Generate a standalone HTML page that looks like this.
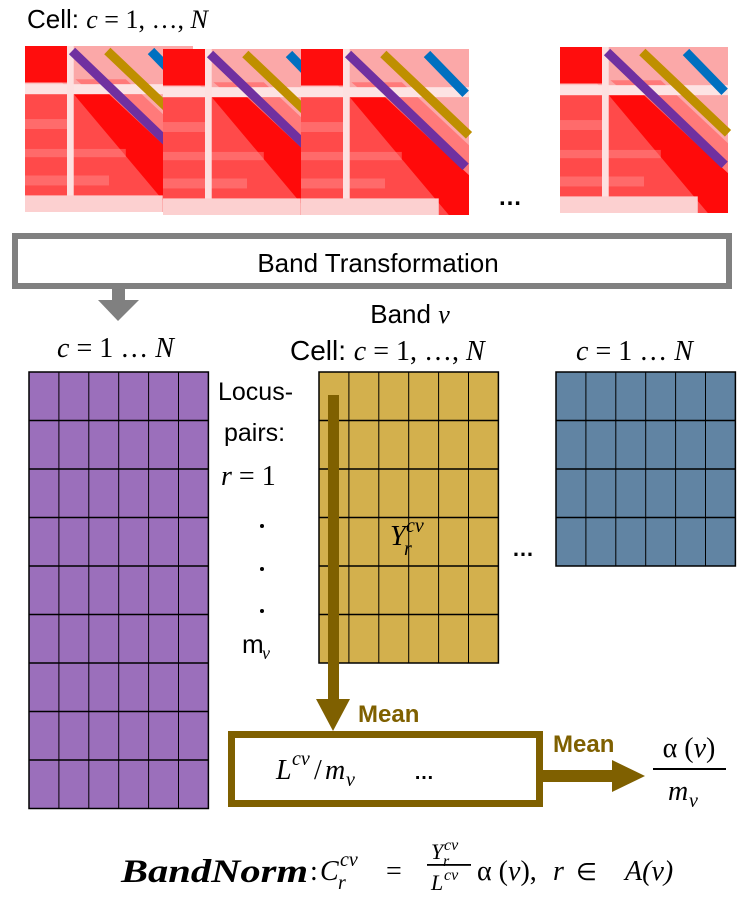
<!DOCTYPE html>
<html><head><meta charset="utf-8"><style>
html,body{margin:0;padding:0;background:#fff}
svg{display:block}
.s{font-family:"Liberation Sans",sans-serif}
.m{font-family:"Liberation Serif",serif;font-style:italic}
.r{font-family:"Liberation Serif",serif}
</style></head><body>
<svg id="root" width="750" height="905" viewBox="0 0 750 905" xmlns="http://www.w3.org/2000/svg">
<defs>
<g id="hm">
  <rect x="0" y="0" width="100" height="100" fill="#fcc4c4"/>
  <polygon points="0,0 100,0 100,100" fill="#fba8a8"/>
  <polygon points="30,20 60,20 100,58 100,80" fill="#ff7a7a"/>
  <polygon points="0,29 29,29 100,100 0,100" fill="#ff4a4a"/>
  <polygon points="29,29 50,29 100,76 100,100 88,100" fill="#ff0a0a"/>
  <rect x="0" y="0" width="26" height="22" fill="#ff0d0d"/>
  <rect x="0" y="44" width="26" height="6" fill="#ff8c8c" opacity="0.5"/>
  <rect x="0" y="62" width="60" height="5" fill="#ff9a9a" opacity="0.4"/>
  <rect x="0" y="78" width="50" height="6" fill="#ff9a9a" opacity="0.4"/>
  <rect x="0" y="23" width="100" height="6" fill="#fde3e3"/>
  <rect x="25" y="0" width="4" height="100" fill="#fde0e0"/>
  <rect x="0" y="90" width="82" height="10" fill="#fcd0d0"/>
</g>
</defs>
<text x="27" y="28" font-size="26"><tspan class="s">Cell: </tspan><tspan class="m">c</tspan><tspan class="r"> = 1, …, </tspan><tspan class="m">N</tspan></text>
<g id="heatmaps"></g>
<text x="498" y="205" class="s" font-size="24" font-weight="bold">…</text>
<rect x="15" y="236" width="714" height="50" fill="#fff" stroke="#808080" stroke-width="6"/>
<text x="378" y="272" text-anchor="middle" class="s" font-size="26">Band Transformation</text>
<g><rect x="112" y="289" width="13" height="13" fill="#808080"/><polygon points="98,300 139,300 118,321" fill="#808080"/></g>
<text x="410" y="323" text-anchor="middle" font-size="26"><tspan class="s">Band </tspan><tspan class="m">v</tspan></text>
<text x="290" y="360" font-size="28"><tspan class="s">Cell: </tspan><tspan class="m">c</tspan><tspan class="r"> = 1, …, </tspan><tspan class="m">N</tspan></text>
<text x="57" y="357" font-size="28"><tspan class="m">c</tspan><tspan class="r"> = 1 … </tspan><tspan class="m">N</tspan></text>
<text x="576" y="360" font-size="28"><tspan class="m">c</tspan><tspan class="r"> = 1 … </tspan><tspan class="m">N</tspan></text>
<g id="grids"></g>
<text x="218" y="400" class="s" font-size="25">Locus-</text>
<text x="224" y="441" class="s" font-size="25">pairs:</text>
<text x="221" y="485" font-size="28"><tspan class="m">r</tspan><tspan class="r"> = 1</tspan></text>
<g fill="#000"><circle cx="262" cy="526" r="2"/><circle cx="262" cy="569" r="2"/><circle cx="262" cy="611" r="2"/></g>
<text x="242" y="653" font-size="26" class="s">m</text>
<text x="262" y="659" font-size="18" class="m">v</text>
<g>
<text x="390" y="545" font-size="28" class="m">Y</text>
<text x="406" y="532" font-size="20" class="m">cv</text>
<text x="404" y="555" font-size="20" class="m">r</text>
</g>
<text x="512" y="556" class="s" font-size="22" font-weight="bold">…</text>
<g><rect x="328" y="395" width="11" height="306" fill="#7f6000"/><polygon points="316,699 350,699 333,731" fill="#7f6000"/></g>
<text x="358" y="722" class="s" font-size="24" font-weight="bold" fill="#7f6000">Mean</text>
<rect x="231.5" y="734.5" width="308" height="69" fill="#fff" stroke="#7f6000" stroke-width="7"/>
<g>
<text x="276" y="779" font-size="28" class="m">L</text>
<text x="292" y="765" font-size="20" class="m">cv</text>
<text x="314" y="779" font-size="28" class="r">/</text>
<text x="325" y="779" font-size="28" class="m">m</text>
<text x="346" y="786" font-size="20" class="m">v</text>
<text x="414" y="779" font-size="20" class="s" font-weight="bold">…</text>
</g>
<g><rect x="543" y="770" width="72" height="12" fill="#7f6000"/><polygon points="612,760 645,776 612,792" fill="#7f6000"/></g>
<text x="553" y="752" class="s" font-size="24" font-weight="bold" fill="#7f6000">Mean</text>
<text x="689" y="757" text-anchor="middle" class="r" font-size="28">α (<tspan class="m">v</tspan>)</text>
<rect x="653" y="768" width="73" height="2" fill="#000"/>
<text x="668" y="800" font-size="28" class="m">m</text>
<text x="689" y="807" font-size="20" class="m">v</text>
<g>
<text x="121" y="882" font-size="33" class="m" font-weight="bold" textLength="187" lengthAdjust="spacingAndGlyphs">BandNorm</text>
<text x="310" y="880" font-size="28" class="r">:</text>
<text x="320" y="880" font-size="28" class="m">C</text>
<text x="340" y="866" font-size="20" class="m">cv</text>
<text x="338" y="889" font-size="20" class="m">r</text>
<text x="386" y="880" font-size="28" class="r">=</text>
<text x="431" y="859" font-size="22" class="m">Y</text>
<text x="444" y="850" font-size="16" class="m">cv</text>
<text x="443" y="866" font-size="16" class="m">r</text>
<rect x="427" y="864" width="44" height="1.8" fill="#000"/>
<text x="431" y="890" font-size="22" class="m">L</text>
<text x="444" y="880" font-size="16" class="m">cv</text>
<text x="477" y="880" font-size="28" class="r">α (<tspan class="m">v</tspan>),</text>
<text x="553" y="880" font-size="28" class="m">r</text>
<text x="576" y="880" font-size="24" class="r">∈</text>
<text x="625" y="880" font-size="28" class="m">A<tspan class="r">(</tspan>v<tspan class="r">)</tspan></text>
</g>
</svg>
<script>
const NS="http://www.w3.org/2000/svg";
const heatmapX=[25,163,301,560];
const heatmapY=[46,49,49,47];
const gridNames=["purple-band-grid","gold-band-grid","blue-band-grid"];
const gridColors=["#9b6fbb","#d3b04d","#6184a3"];
const gridX=[29,319,556];
const gridRows=[9,6,4];
const gridCols=[6,6,6];
const hmG=document.getElementById('heatmaps');
heatmapX.forEach((x,i)=>{
  const g=document.createElementNS(NS,'g');
  
  
  g.setAttribute('transform','translate('+x+','+heatmapY[i]+')');
  const w=168,h=166;
  const u=document.createElementNS(NS,'use');
  u.setAttribute('href','#hm');
  u.setAttribute('transform','scale('+(w/100)+','+(h/100)+')');
  g.appendChild(u);
  const lines=[["#7030a0",0.28,0.03,0.98,0.71],["#bf8f00",0.49,0.03,1.0,0.52],["#0070c0",0.75,0.03,0.98,0.27]];
  lines.forEach(l=>{
    const ln=document.createElementNS(NS,'line');
    ln.setAttribute('x1',l[1]*w);ln.setAttribute('y1',l[2]*h);
    ln.setAttribute('x2',l[3]*w);ln.setAttribute('y2',l[4]*h);
    ln.setAttribute('stroke',l[0]);ln.setAttribute('stroke-width',9);
    g.appendChild(ln);
  });
  hmG.appendChild(g);
});
const gG=document.getElementById('grids');
const top0=372,rowH=48.5,colW=29.9;
gridNames.forEach((n,i)=>{
  const g=document.createElementNS(NS,'g');
  
  
  const W=gridCols[i]*colW,H=gridRows[i]*rowH;
  const r=document.createElementNS(NS,'rect');
  r.setAttribute('x',gridX[i]);r.setAttribute('y',top0);r.setAttribute('width',W);r.setAttribute('height',H);
  r.setAttribute('fill',gridColors[i]);r.setAttribute('stroke','#000');r.setAttribute('stroke-width',1.5);
  g.appendChild(r);
  for(let c=1;c<gridCols[i];c++){
    const l=document.createElementNS(NS,'line');
    l.setAttribute('x1',gridX[i]+c*colW);l.setAttribute('x2',gridX[i]+c*colW);
    l.setAttribute('y1',top0);l.setAttribute('y2',top0+H);l.setAttribute('stroke','#000');l.setAttribute('stroke-width',1);
    g.appendChild(l);
  }
  for(let k=1;k<gridRows[i];k++){
    const l=document.createElementNS(NS,'line');
    l.setAttribute('x1',gridX[i]);l.setAttribute('x2',gridX[i]+W);
    l.setAttribute('y1',top0+k*rowH);l.setAttribute('y2',top0+k*rowH);l.setAttribute('stroke','#000');l.setAttribute('stroke-width',1.5);
    g.appendChild(l);
  }
  gG.appendChild(g);
});
</script>
</body></html>
